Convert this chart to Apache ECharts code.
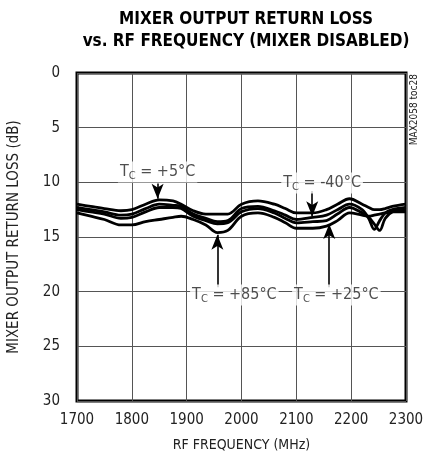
<!DOCTYPE html>
<html><head><meta charset="utf-8">
<script src="https://cdn.jsdelivr.net/npm/echarts@6/dist/echarts.min.js"></script>
<style>html,body{margin:0;padding:0;background:#fff}#c{width:423px;height:461px}</style>
</head><body><div id="c"></div>
<script>
const freq = [1700,1725,1750,1780,1800,1825,1850,1875,1890,1912,1935,1956,1975,2000,2030,2060,2080,2100,2130,2155,2175,2197,2220,2232,2242,2252,2262,2275,2300];
const tcP5  = [12.0,12.2,12.4,12.6,12.5,12.0,11.6,11.7,12.0,12.6,12.9,12.9,12.9,12.0,11.7,12.0,12.4,12.8,12.8,12.5,12.0,11.5,12.0,12.3,12.5,12.5,12.4,12.2,12.0];
const tcM40 = [12.3,12.5,12.7,13.0,12.9,12.4,12.0,12.1,12.2,12.9,13.3,13.6,13.5,12.4,12.2,12.6,13.0,13.4,13.2,13.0,12.5,12.0,12.5,13.3,14.3,13.5,12.8,12.5,12.3];
const tcP25 = [12.5,12.7,12.9,13.3,13.2,12.7,12.3,12.3,12.4,13.1,13.5,13.8,13.7,12.7,12.4,12.8,13.3,13.7,13.6,13.5,12.9,12.3,12.8,13.2,13.8,14.4,13.3,12.7,12.5];
const tcP85 = [12.8,13.1,13.4,13.9,13.9,13.6,13.4,13.2,13.1,13.4,13.9,14.6,14.4,13.1,12.8,13.2,13.7,14.2,14.2,14.0,13.5,12.8,13.0,13.1,13.0,12.9,12.8,12.7,12.7];
const xTicks = [1700,1800,1900,2000,2100,2200,2300];
const yTicks = [0,5,10,15,20,25,30];
// annotations: label text, label position [freq, dB], arrow freq, arrow start dB, arrow tip dB
const annText  = ['+5°C','-40°C','+85°C','+25°C'];
const annLabel = [[1847,9.06],[2147,10.06],[1987,20.3],[2173,20.3]];
const annArrow = [[1847,10.1,11.5],[2129,10.8,13.1],[1956,19.6,14.8],[2160,19.6,13.8]];

const FONT = "'DejaVu Sans Condensed','Liberation Sans Narrow',Arial,sans-serif";
const pairs = v => freq.map((f,i)=>[f,v[i]]);
const curve = v => ({type:'line', data:pairs(v), showSymbol:false, smooth:0.35,
  lineStyle:{color:'#000', width:2.8}, z:3, silent:true});

const chart = echarts.init(document.getElementById('c'));
chart.setOption({
  animation:false,
  title:{text:'MIXER OUTPUT RETURN LOSS\nvs. RF FREQUENCY (MIXER DISABLED)', left:241, textAlign:'center', top:4,
    textStyle:{fontFamily:FONT, fontWeight:'bold', fontSize:17, lineHeight:22, color:'#000'}},
  grid:{left:77, top:73, right:17, bottom:60, show:true, borderColor:'#000', borderWidth:3,
    containLabel:false, outerBoundsMode:'none'},
  xAxis:{type:'value', min:xTicks[0], max:xTicks[xTicks.length-1], interval:100,
    name:'RF FREQUENCY (MHz)', nameLocation:'middle', nameGap:37,
    nameTextStyle:{fontFamily:FONT, fontSize:14, color:'#222'},
    axisLine:{show:false}, axisTick:{show:false},
    axisLabel:{fontFamily:FONT, fontSize:15, color:'#222', margin:12, formatter:v=>String(v)},
    splitLine:{show:true, lineStyle:{color:'#555', width:1}}},
  yAxis:{type:'value', inverse:true, min:yTicks[0], max:yTicks[yTicks.length-1], interval:5,
    name:'MIXER OUTPUT RETURN LOSS (dB)', nameLocation:'middle', nameGap:55, nameRotate:90,
    nameTextStyle:{fontFamily:FONT, fontSize:15, color:'#222'},
    axisLine:{show:false}, axisTick:{show:false},
    axisLabel:{fontFamily:FONT, fontSize:15, color:'#222', margin:17},
    splitLine:{show:true, lineStyle:{color:'#555', width:1}}},
  graphic:[{type:'text', left:409, top:74, rotation:Math.PI/2,
    style:{text:'MAX2058 toc28', fontFamily:FONT, fontSize:10, fill:'#222'}}],
  series:[
    curve(tcP5), curve(tcM40), curve(tcP25), curve(tcP85),
    {type:'scatter', symbolSize:1, itemStyle:{color:'rgba(0,0,0,0)'}, z:5, silent:true,
     labelLayout:{hideOverlap:false},
     data:annLabel.map((p,i)=>({value:p, name:annText[i]})),
     label:{show:true, position:'inside', backgroundColor:'#fff', padding:[1,2,1,2],
       formatter:p=>'{t|T}{s|C}{t| = '+p.name+'}',
       rich:{t:{fontFamily:FONT, fontSize:16, color:'#222'},
             s:{fontFamily:FONT, fontSize:11, color:'#222', padding:[8,0,0,0]}}},
     markLine:{silent:true, symbol:['none','arrow'], symbolSize:[9,15],
       lineStyle:{color:'#000', width:1.6, type:'solid'}, label:{show:false},
       data:annArrow.map(a=>[{coord:[a[0],a[1]]},{coord:[a[0],a[2]]}])}}
  ]
});
</script></body></html>
